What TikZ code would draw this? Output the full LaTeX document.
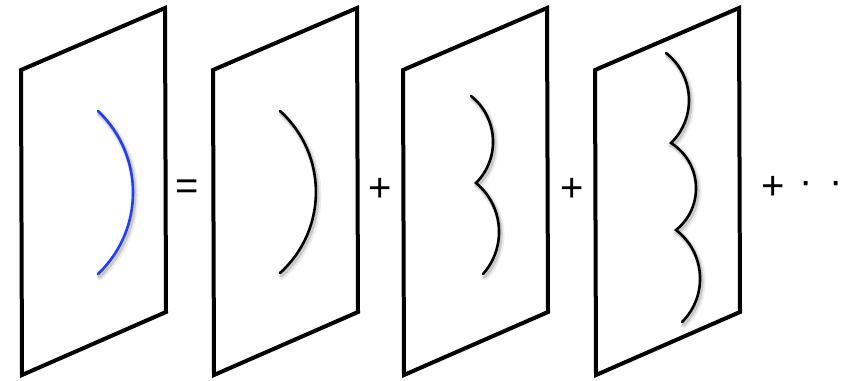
\documentclass[tikz,border=0pt]{standalone}
\usepackage{fontspec}
\setmainfont{Liberation Sans}
\definecolor{curveblue}{RGB}{35,60,245}
\begin{document}
\begin{tikzpicture}[x=1pt,y=-1pt,
  panel/.style={line width=4pt,line join=miter},
  curve/.style={line width=2.6pt,line cap=round},
  shade1/.style={line width=7pt,line cap=round,black,opacity=0.07,shift={(2,3)}},
  shade2/.style={line width=4pt,line cap=round,black,opacity=0.15,shift={(1.5,2.5)}},
  sym/.style={inner sep=0pt,font=\fontsize{40}{44}\selectfont}]
\useasboundingbox (0,0) rectangle (859,380);
% panels
\foreach \x in {21,213,403,595}{
  \draw[panel] (\x,70) -- (\x+144,8) -- (\x+145,312) -- (\x+1,375) -- cycle;
}
% curve shapes
\def\curveA{(98,111) .. controls (144.7,155.4) and (144.7,229.6) .. (98,274)}
\def\curveB{(280,111) .. controls (327.9,154.3) and (327.9,229.7) .. (280,273)}
\def\curveC{(471,96) .. controls (498.2,117.7) and (500.6,158.3) .. (476,183) .. controls (503.7,205.8) and (506.9,247.2) .. (483,274)}
\def\curveD{(666,53) .. controls (694.5,75.3) and (696.9,117.7) .. (671,143) .. controls (702.1,162.6) and (704.7,207) .. (676,230) .. controls (705.5,252.5) and (708.3,295.9) .. (682,322)}
% shadows
\foreach \c in {\curveA,\curveB,\curveC,\curveD}{
  \draw[shade1] \c;
  \draw[shade2] \c;
}
\draw[curve,curveblue] \curveA;
\draw[curve] \curveB;
\draw[curve,line join=miter] \curveC;
\draw[curve,line join=miter] \curveD;
% symbols
\node[sym] (eq) at (187,190) {=};
\node[sym] (p1) at (380,190) {+};
\node[sym] (p2) at (572,190) {+};
\node[sym] (p3) at (773,188) {+};
\node[sym] (d1) at (806,188) {·};
\node[sym] (d2) at (836,188) {·};
\end{tikzpicture}
\end{document}
